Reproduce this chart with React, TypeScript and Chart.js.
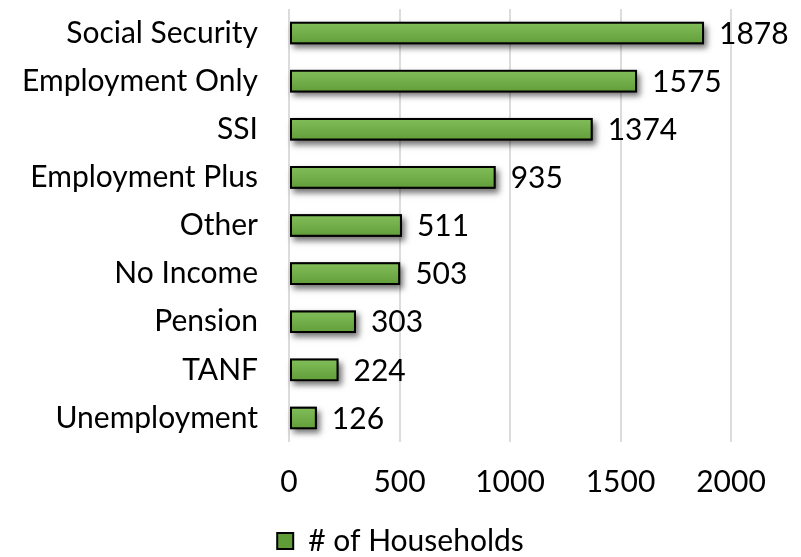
import React, { useEffect, useRef } from 'react';
import { Chart, registerables } from 'chart.js';

Chart.register(...registerables);

const categories = [
  'Social Security',
  'Employment Only',
  'SSI',
  'Employment Plus',
  'Other',
  'No Income',
  'Pension',
  'TANF',
  'Unemployment',
];
const households = [1878, 1575, 1374, 935, 511, 503, 303, 224, 126];
const xTickValues = [0, 500, 1000, 1500, 2000];
const seriesLabel = '# of Households';

const FONT_FAMILY = "Lato, 'Open Sans', sans-serif";
const FONT_SIZE = 30;
const BAR_PCT = 0.47;

function barFill(ctx: any) {
  const chart = ctx.chart;
  const y = chart.scales && chart.scales.y;
  if (!y || ctx.type !== 'data' || !chart.chartArea) return '#70AD47';
  const c = y.getPixelForValue(ctx.dataIndex);
  const half = (y.height / categories.length) * BAR_PCT / 2;
  const g = chart.ctx.createLinearGradient(0, c - half, 0, c + half);
  g.addColorStop(0, '#82bf5a');
  g.addColorStop(0.5, '#72ae49');
  g.addColorStop(1, '#609d38');
  return g;
}

const shadowPlugin = {
  id: 'barShadow',
  beforeDatasetsDraw(chart: any) {
    const ctx = chart.ctx;
    const meta = chart.getDatasetMeta(0);
    ctx.save();
    ctx.shadowColor = 'rgba(0,0,0,0.55)';
    ctx.shadowBlur = 6;
    ctx.shadowOffsetX = 3;
    ctx.shadowOffsetY = 4;
    ctx.fillStyle = '#000';
    meta.data.forEach((el: any) => {
      const p = el.getProps(['x', 'y', 'base', 'height'], true);
      ctx.fillRect(p.base, p.y - p.height / 2, p.x - p.base, p.height);
    });
    ctx.restore();
  },
};

const valueLabelPlugin = {
  id: 'valueLabels',
  afterDatasetsDraw(chart: any) {
    const ctx = chart.ctx;
    const meta = chart.getDatasetMeta(0);
    ctx.save();
    ctx.font = `${FONT_SIZE}px ${FONT_FAMILY}`;
    ctx.fillStyle = '#000';
    ctx.textAlign = 'left';
    ctx.textBaseline = 'middle';
    meta.data.forEach((el: any, i: number) => {
      const p = el.getProps(['x', 'y'], true);
      ctx.fillText(String(households[i]), p.x + 15, p.y + 1);
    });
    ctx.restore();
  },
};

export default function App() {
  const canvasRef = useRef<HTMLCanvasElement | null>(null);

  useEffect(() => {
    if (!canvasRef.current) return;
    const chart = new Chart(canvasRef.current, {
      type: 'bar',
      data: {
        labels: categories,
        datasets: [
          {
            label: seriesLabel,
            data: households,
            backgroundColor: barFill,
            borderColor: '#000',
            borderWidth: 2,
            borderSkipped: false,
            categoryPercentage: 1,
            barPercentage: BAR_PCT,
          },
        ],
      },
      options: {
        indexAxis: 'y',
        animation: false,
        responsive: true,
        maintainAspectRatio: false,
        layout: { padding: { top: 9, right: 0, bottom: 0, left: 0 } },
        scales: {
          x: {
            min: 0,
            max: 2000,
            afterBuildTicks(scale: any) {
              scale.ticks = xTickValues.map((v) => ({ value: v }));
            },
            afterFit(scale: any) {
              scale.height = 80;
              scale.paddingRight = 70;
              scale.paddingLeft = 0;
            },
            grid: { color: '#dcdcdc', lineWidth: 2, drawTicks: false },
            border: { display: false },
            ticks: {
              padding: 22,
              color: '#000',
              font: { family: FONT_FAMILY, size: FONT_SIZE },
              callback: (v: any) => String(v),
            },
          },
          y: {
            afterFit(scale: any) {
              scale.width = 289;
              scale.paddingTop = 0;
              scale.paddingBottom = 0;
            },
            grid: { display: false, drawTicks: false },
            border: { display: false },
            ticks: {
              padding: 31,
              color: '#000',
              font: { family: FONT_FAMILY, size: FONT_SIZE },
            },
          },
        },
        plugins: {
          legend: {
            position: 'bottom',
            maxHeight: 35,
            labels: {
              boxWidth: 16,
              boxHeight: 16,
              padding: 4,
              color: '#000',
              font: { family: FONT_FAMILY, size: FONT_SIZE },
            },
          },
          tooltip: { enabled: false },
        },
      },
      plugins: [shadowPlugin, valueLabelPlugin],
    });
    return () => chart.destroy();
  }, []);

  return (
    <div style={{ position: 'absolute', left: 0, top: 0, width: 801, height: 557 }}>
      <canvas ref={canvasRef} />
    </div>
  );
}
